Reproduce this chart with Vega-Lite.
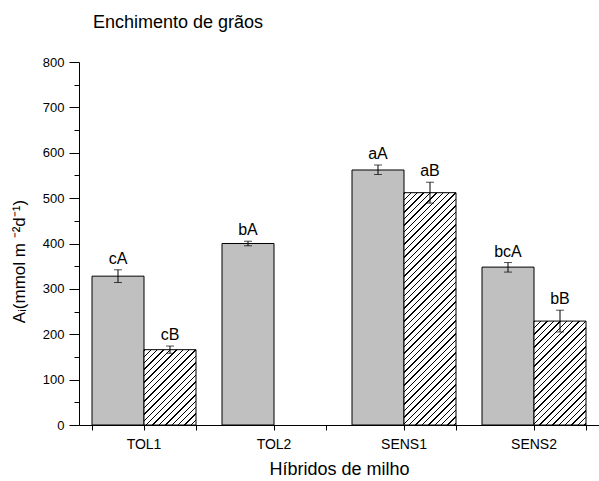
{
  "$schema": "https://vega.github.io/schema/vega-lite/v6.json",
  "width": 520,
  "height": 363,
  "autosize": {"type": "none"},
  "padding": {"left": 79, "top": 62, "right": 0, "bottom": 56},
  "background": "#ffffff",
  "title": {"text": "Enchimento de grãos", "anchor": "start", "frame": "group", "dx": 14, "offset": 10, "baseline": "alphabetic", "font": "Liberation Sans", "fontSize": 18, "fontWeight": "normal", "color": "#000"},
  "config": {
    "view": {"stroke": null},
    "axis": {"grid": false, "domainColor": "#000", "tickColor": "#000", "labelColor": "#000", "titleColor": "#000", "labelFont": "Liberation Sans", "titleFont": "Liberation Sans", "titleFontWeight": "normal"}
  },
  "data": {"values": [
    {"hibrido": "TOL1", "serie": "A", "v": 328, "lo": 314, "hi": 342, "letra": "cA"},
    {"hibrido": "TOL1", "serie": "B", "v": 166, "lo": 158, "hi": 174, "letra": "cB"},
    {"hibrido": "TOL2", "serie": "A", "v": 400, "lo": 395, "hi": 405, "letra": "bA"},
    {"hibrido": "SENS1", "serie": "A", "v": 562, "lo": 552, "hi": 573, "letra": "aA"},
    {"hibrido": "SENS1", "serie": "B", "v": 512, "lo": 489, "hi": 535, "letra": "aB"},
    {"hibrido": "SENS2", "serie": "A", "v": 348, "lo": 337, "hi": 358, "letra": "bcA"},
    {"hibrido": "SENS2", "serie": "B", "v": 229, "lo": 205, "hi": 253, "letra": "bB"}
  ]},
  "resolve": {"axis": {"x": "independent", "y": "independent"}},
  "layer": [
    {
      "mark": {"type": "bar", "stroke": "#000", "strokeWidth": 1},
      "encoding": {
        "x": {"field": "hibrido", "type": "nominal", "sort": ["TOL1", "TOL2", "SENS1", "SENS2"], "scale": {"paddingInner": 0.2, "paddingOuter": 0.1},
              "axis": {"orient": "bottom", "title": "Híbridos de milho", "labelAngle": 0, "labelFontSize": 14, "tickSize": 5, "labelPadding": 7, "titleFontSize": 18, "titleBaseline": "alphabetic", "titleY": 49}},
        "xOffset": {"field": "serie", "type": "nominal", "scale": {"paddingInner": 0, "paddingOuter": 0}},
        "y": {"field": "v", "type": "quantitative", "scale": {"domain": [0, 800], "nice": false},
              "axis": {"orient": "left", "values": [0, 100, 200, 300, 400, 500, 600, 700, 800], "tickSize": 10, "labelPadding": 5, "labelFontSize": 13, "title": "Aᵢ(mmol m ⁻²d⁻¹)", "titleFontSize": 17, "titleX": -51, "titleY": 199, "titleAngle": -90, "titleAlign": "center", "titleBaseline": "bottom"}},
        "fill": {
          "condition": [
            {"test": "datum.hibrido === 'TOL1' && datum.serie === 'B'", "value": {"gradient": "linear", "x1": 0, "y1": 0, "x2": 1.98637, "y2": 2.87716, "stops": [
              {"offset":0,"color":"#000"},{"offset":0.0045,"color":"#000"},{"offset":0.0045,"color":"#fff"},{"offset":0.02,"color":"#fff"},
              {"offset":0.02,"color":"#000"},{"offset":0.0245,"color":"#000"},{"offset":0.0245,"color":"#fff"},{"offset":0.04,"color":"#fff"},
              {"offset":0.04,"color":"#000"},{"offset":0.0445,"color":"#000"},{"offset":0.0445,"color":"#fff"},{"offset":0.06,"color":"#fff"},
              {"offset":0.06,"color":"#000"},{"offset":0.0645,"color":"#000"},{"offset":0.0645,"color":"#fff"},{"offset":0.08,"color":"#fff"},
              {"offset":0.08,"color":"#000"},{"offset":0.0845,"color":"#000"},{"offset":0.0845,"color":"#fff"},{"offset":0.1,"color":"#fff"},
              {"offset":0.1,"color":"#000"},{"offset":0.1045,"color":"#000"},{"offset":0.1045,"color":"#fff"},{"offset":0.12,"color":"#fff"},
              {"offset":0.12,"color":"#000"},{"offset":0.1245,"color":"#000"},{"offset":0.1245,"color":"#fff"},{"offset":0.14,"color":"#fff"},
              {"offset":0.14,"color":"#000"},{"offset":0.1445,"color":"#000"},{"offset":0.1445,"color":"#fff"},{"offset":0.16,"color":"#fff"},
              {"offset":0.16,"color":"#000"},{"offset":0.1645,"color":"#000"},{"offset":0.1645,"color":"#fff"},{"offset":0.18,"color":"#fff"},
              {"offset":0.18,"color":"#000"},{"offset":0.1845,"color":"#000"},{"offset":0.1845,"color":"#fff"},{"offset":0.2,"color":"#fff"},
              {"offset":0.2,"color":"#000"},{"offset":0.2045,"color":"#000"},{"offset":0.2045,"color":"#fff"},{"offset":0.22,"color":"#fff"},
              {"offset":0.22,"color":"#000"},{"offset":0.2245,"color":"#000"},{"offset":0.2245,"color":"#fff"},{"offset":0.24,"color":"#fff"},
              {"offset":0.24,"color":"#000"},{"offset":0.2445,"color":"#000"},{"offset":0.2445,"color":"#fff"},{"offset":0.26,"color":"#fff"},
              {"offset":0.26,"color":"#000"},{"offset":0.2645,"color":"#000"},{"offset":0.2645,"color":"#fff"},{"offset":0.28,"color":"#fff"},
              {"offset":0.28,"color":"#000"},{"offset":0.2845,"color":"#000"},{"offset":0.2845,"color":"#fff"},{"offset":0.3,"color":"#fff"},
              {"offset":0.3,"color":"#000"},{"offset":0.3045,"color":"#000"},{"offset":0.3045,"color":"#fff"},{"offset":0.32,"color":"#fff"},
              {"offset":0.32,"color":"#000"},{"offset":0.3245,"color":"#000"},{"offset":0.3245,"color":"#fff"},{"offset":0.34,"color":"#fff"},
              {"offset":0.34,"color":"#000"},{"offset":0.3445,"color":"#000"},{"offset":0.3445,"color":"#fff"},{"offset":0.36,"color":"#fff"},
              {"offset":0.36,"color":"#000"},{"offset":0.3645,"color":"#000"},{"offset":0.3645,"color":"#fff"},{"offset":0.38,"color":"#fff"},
              {"offset":0.38,"color":"#000"},{"offset":0.3845,"color":"#000"},{"offset":0.3845,"color":"#fff"},{"offset":0.4,"color":"#fff"}
            ]}},
            {"test": "datum.hibrido === 'SENS2' && datum.serie === 'B'", "value": {"gradient": "linear", "x1": 0, "y1": 0, "x2": 1.23248, "y2": 2.46282, "stops": [
              {"offset":0,"color":"#000"},{"offset":0.0045,"color":"#000"},{"offset":0.0045,"color":"#fff"},{"offset":0.02,"color":"#fff"},
              {"offset":0.02,"color":"#000"},{"offset":0.0245,"color":"#000"},{"offset":0.0245,"color":"#fff"},{"offset":0.04,"color":"#fff"},
              {"offset":0.04,"color":"#000"},{"offset":0.0445,"color":"#000"},{"offset":0.0445,"color":"#fff"},{"offset":0.06,"color":"#fff"},
              {"offset":0.06,"color":"#000"},{"offset":0.0645,"color":"#000"},{"offset":0.0645,"color":"#fff"},{"offset":0.08,"color":"#fff"},
              {"offset":0.08,"color":"#000"},{"offset":0.0845,"color":"#000"},{"offset":0.0845,"color":"#fff"},{"offset":0.1,"color":"#fff"},
              {"offset":0.1,"color":"#000"},{"offset":0.1045,"color":"#000"},{"offset":0.1045,"color":"#fff"},{"offset":0.12,"color":"#fff"},
              {"offset":0.12,"color":"#000"},{"offset":0.1245,"color":"#000"},{"offset":0.1245,"color":"#fff"},{"offset":0.14,"color":"#fff"},
              {"offset":0.14,"color":"#000"},{"offset":0.1445,"color":"#000"},{"offset":0.1445,"color":"#fff"},{"offset":0.16,"color":"#fff"},
              {"offset":0.16,"color":"#000"},{"offset":0.1645,"color":"#000"},{"offset":0.1645,"color":"#fff"},{"offset":0.18,"color":"#fff"},
              {"offset":0.18,"color":"#000"},{"offset":0.1845,"color":"#000"},{"offset":0.1845,"color":"#fff"},{"offset":0.2,"color":"#fff"},
              {"offset":0.2,"color":"#000"},{"offset":0.2045,"color":"#000"},{"offset":0.2045,"color":"#fff"},{"offset":0.22,"color":"#fff"},
              {"offset":0.22,"color":"#000"},{"offset":0.2245,"color":"#000"},{"offset":0.2245,"color":"#fff"},{"offset":0.24,"color":"#fff"},
              {"offset":0.24,"color":"#000"},{"offset":0.2445,"color":"#000"},{"offset":0.2445,"color":"#fff"},{"offset":0.26,"color":"#fff"},
              {"offset":0.26,"color":"#000"},{"offset":0.2645,"color":"#000"},{"offset":0.2645,"color":"#fff"},{"offset":0.28,"color":"#fff"},
              {"offset":0.28,"color":"#000"},{"offset":0.2845,"color":"#000"},{"offset":0.2845,"color":"#fff"},{"offset":0.3,"color":"#fff"},
              {"offset":0.3,"color":"#000"},{"offset":0.3045,"color":"#000"},{"offset":0.3045,"color":"#fff"},{"offset":0.32,"color":"#fff"},
              {"offset":0.32,"color":"#000"},{"offset":0.3245,"color":"#000"},{"offset":0.3245,"color":"#fff"},{"offset":0.34,"color":"#fff"},
              {"offset":0.34,"color":"#000"},{"offset":0.3445,"color":"#000"},{"offset":0.3445,"color":"#fff"},{"offset":0.36,"color":"#fff"},
              {"offset":0.36,"color":"#000"},{"offset":0.3645,"color":"#000"},{"offset":0.3645,"color":"#fff"},{"offset":0.38,"color":"#fff"},
              {"offset":0.38,"color":"#000"},{"offset":0.3845,"color":"#000"},{"offset":0.3845,"color":"#fff"},{"offset":0.4,"color":"#fff"},
              {"offset":0.4,"color":"#000"},{"offset":0.4045,"color":"#000"},{"offset":0.4045,"color":"#fff"},{"offset":0.42,"color":"#fff"},
              {"offset":0.42,"color":"#000"},{"offset":0.4245,"color":"#000"},{"offset":0.4245,"color":"#fff"},{"offset":0.44,"color":"#fff"},
              {"offset":0.44,"color":"#000"},{"offset":0.4445,"color":"#000"},{"offset":0.4445,"color":"#fff"},{"offset":0.46,"color":"#fff"},
              {"offset":0.46,"color":"#000"},{"offset":0.4645,"color":"#000"},{"offset":0.4645,"color":"#fff"},{"offset":0.48,"color":"#fff"},
              {"offset":0.48,"color":"#000"},{"offset":0.4845,"color":"#000"},{"offset":0.4845,"color":"#fff"},{"offset":0.5,"color":"#fff"}
            ]}},
            {"test": "datum.hibrido === 'SENS1' && datum.serie === 'B'", "value": {"gradient": "linear", "x1": 0, "y1": 0, "x2": 0.2936, "y2": 1.31169, "stops": [
              {"offset":0,"color":"#000"},{"offset":0.0045,"color":"#000"},{"offset":0.0045,"color":"#fff"},{"offset":0.02,"color":"#fff"},
              {"offset":0.02,"color":"#000"},{"offset":0.0245,"color":"#000"},{"offset":0.0245,"color":"#fff"},{"offset":0.04,"color":"#fff"},
              {"offset":0.04,"color":"#000"},{"offset":0.0445,"color":"#000"},{"offset":0.0445,"color":"#fff"},{"offset":0.06,"color":"#fff"},
              {"offset":0.06,"color":"#000"},{"offset":0.0645,"color":"#000"},{"offset":0.0645,"color":"#fff"},{"offset":0.08,"color":"#fff"},
              {"offset":0.08,"color":"#000"},{"offset":0.0845,"color":"#000"},{"offset":0.0845,"color":"#fff"},{"offset":0.1,"color":"#fff"},
              {"offset":0.1,"color":"#000"},{"offset":0.1045,"color":"#000"},{"offset":0.1045,"color":"#fff"},{"offset":0.12,"color":"#fff"},
              {"offset":0.12,"color":"#000"},{"offset":0.1245,"color":"#000"},{"offset":0.1245,"color":"#fff"},{"offset":0.14,"color":"#fff"},
              {"offset":0.14,"color":"#000"},{"offset":0.1445,"color":"#000"},{"offset":0.1445,"color":"#fff"},{"offset":0.16,"color":"#fff"},
              {"offset":0.16,"color":"#000"},{"offset":0.1645,"color":"#000"},{"offset":0.1645,"color":"#fff"},{"offset":0.18,"color":"#fff"},
              {"offset":0.18,"color":"#000"},{"offset":0.1845,"color":"#000"},{"offset":0.1845,"color":"#fff"},{"offset":0.2,"color":"#fff"},
              {"offset":0.2,"color":"#000"},{"offset":0.2045,"color":"#000"},{"offset":0.2045,"color":"#fff"},{"offset":0.22,"color":"#fff"},
              {"offset":0.22,"color":"#000"},{"offset":0.2245,"color":"#000"},{"offset":0.2245,"color":"#fff"},{"offset":0.24,"color":"#fff"},
              {"offset":0.24,"color":"#000"},{"offset":0.2445,"color":"#000"},{"offset":0.2445,"color":"#fff"},{"offset":0.26,"color":"#fff"},
              {"offset":0.26,"color":"#000"},{"offset":0.2645,"color":"#000"},{"offset":0.2645,"color":"#fff"},{"offset":0.28,"color":"#fff"},
              {"offset":0.28,"color":"#000"},{"offset":0.2845,"color":"#000"},{"offset":0.2845,"color":"#fff"},{"offset":0.3,"color":"#fff"},
              {"offset":0.3,"color":"#000"},{"offset":0.3045,"color":"#000"},{"offset":0.3045,"color":"#fff"},{"offset":0.32,"color":"#fff"},
              {"offset":0.32,"color":"#000"},{"offset":0.3245,"color":"#000"},{"offset":0.3245,"color":"#fff"},{"offset":0.34,"color":"#fff"},
              {"offset":0.34,"color":"#000"},{"offset":0.3445,"color":"#000"},{"offset":0.3445,"color":"#fff"},{"offset":0.36,"color":"#fff"},
              {"offset":0.36,"color":"#000"},{"offset":0.3645,"color":"#000"},{"offset":0.3645,"color":"#fff"},{"offset":0.38,"color":"#fff"},
              {"offset":0.38,"color":"#000"},{"offset":0.3845,"color":"#000"},{"offset":0.3845,"color":"#fff"},{"offset":0.4,"color":"#fff"},
              {"offset":0.4,"color":"#000"},{"offset":0.4045,"color":"#000"},{"offset":0.4045,"color":"#fff"},{"offset":0.42,"color":"#fff"},
              {"offset":0.42,"color":"#000"},{"offset":0.4245,"color":"#000"},{"offset":0.4245,"color":"#fff"},{"offset":0.44,"color":"#fff"},
              {"offset":0.44,"color":"#000"},{"offset":0.4445,"color":"#000"},{"offset":0.4445,"color":"#fff"},{"offset":0.46,"color":"#fff"},
              {"offset":0.46,"color":"#000"},{"offset":0.4645,"color":"#000"},{"offset":0.4645,"color":"#fff"},{"offset":0.48,"color":"#fff"},
              {"offset":0.48,"color":"#000"},{"offset":0.4845,"color":"#000"},{"offset":0.4845,"color":"#fff"},{"offset":0.5,"color":"#fff"},
              {"offset":0.5,"color":"#000"},{"offset":0.5045,"color":"#000"},{"offset":0.5045,"color":"#fff"},{"offset":0.52,"color":"#fff"},
              {"offset":0.52,"color":"#000"},{"offset":0.5245,"color":"#000"},{"offset":0.5245,"color":"#fff"},{"offset":0.54,"color":"#fff"},
              {"offset":0.54,"color":"#000"},{"offset":0.5445,"color":"#000"},{"offset":0.5445,"color":"#fff"},{"offset":0.56,"color":"#fff"},
              {"offset":0.56,"color":"#000"},{"offset":0.5645,"color":"#000"},{"offset":0.5645,"color":"#fff"},{"offset":0.58,"color":"#fff"},
              {"offset":0.58,"color":"#000"},{"offset":0.5845,"color":"#000"},{"offset":0.5845,"color":"#fff"},{"offset":0.6,"color":"#fff"},
              {"offset":0.6,"color":"#000"},{"offset":0.6045,"color":"#000"},{"offset":0.6045,"color":"#fff"},{"offset":0.62,"color":"#fff"},
              {"offset":0.62,"color":"#000"},{"offset":0.6245,"color":"#000"},{"offset":0.6245,"color":"#fff"},{"offset":0.64,"color":"#fff"},
              {"offset":0.64,"color":"#000"},{"offset":0.6445,"color":"#000"},{"offset":0.6445,"color":"#fff"},{"offset":0.66,"color":"#fff"},
              {"offset":0.66,"color":"#000"},{"offset":0.6645,"color":"#000"},{"offset":0.6645,"color":"#fff"},{"offset":0.68,"color":"#fff"},
              {"offset":0.68,"color":"#000"},{"offset":0.6845,"color":"#000"},{"offset":0.6845,"color":"#fff"},{"offset":0.7,"color":"#fff"},
              {"offset":0.7,"color":"#000"},{"offset":0.7045,"color":"#000"},{"offset":0.7045,"color":"#fff"},{"offset":0.72,"color":"#fff"},
              {"offset":0.72,"color":"#000"},{"offset":0.7245,"color":"#000"},{"offset":0.7245,"color":"#fff"},{"offset":0.74,"color":"#fff"},
              {"offset":0.74,"color":"#000"},{"offset":0.7445,"color":"#000"},{"offset":0.7445,"color":"#fff"},{"offset":0.76,"color":"#fff"},
              {"offset":0.76,"color":"#000"},{"offset":0.7645,"color":"#000"},{"offset":0.7645,"color":"#fff"},{"offset":0.78,"color":"#fff"},
              {"offset":0.78,"color":"#000"},{"offset":0.7845,"color":"#000"},{"offset":0.7845,"color":"#fff"},{"offset":0.8,"color":"#fff"},
              {"offset":0.8,"color":"#000"},{"offset":0.8045,"color":"#000"},{"offset":0.8045,"color":"#fff"},{"offset":0.82,"color":"#fff"},
              {"offset":0.82,"color":"#000"},{"offset":0.8245,"color":"#000"},{"offset":0.8245,"color":"#fff"},{"offset":0.84,"color":"#fff"},
              {"offset":0.84,"color":"#000"},{"offset":0.8445,"color":"#000"},{"offset":0.8445,"color":"#fff"},{"offset":0.86,"color":"#fff"},
              {"offset":0.86,"color":"#000"},{"offset":0.8645,"color":"#000"},{"offset":0.8645,"color":"#fff"},{"offset":0.88,"color":"#fff"},
              {"offset":0.88,"color":"#000"},{"offset":0.8845,"color":"#000"},{"offset":0.8845,"color":"#fff"},{"offset":0.9,"color":"#fff"}
            ]}}
          ],
          "value": "#c0c0c0"
        }
      }
    },
    {
      "mark": {"type": "rule", "color": "#000", "strokeWidth": 1},
      "encoding": {
        "x": {"field": "hibrido", "type": "nominal", "sort": ["TOL1", "TOL2", "SENS1", "SENS2"],
              "axis": {"orient": "bottom", "tickBand": "extent", "labels": false, "domain": false, "tickSize": 5, "title": null}},
        "xOffset": {"field": "serie", "type": "nominal"},
        "y": {"field": "lo", "type": "quantitative",
              "axis": {"orient": "left", "values": [50, 150, 250, 350, 450, 550, 650, 750], "labels": false, "domain": false, "tickSize": 5, "title": null}},
        "y2": {"field": "hi"}
      }
    },
    {
      "mark": {"type": "tick", "color": "#000", "thickness": 1, "size": 8, "orient": "horizontal"},
      "encoding": {
        "x": {"field": "hibrido", "type": "nominal", "sort": ["TOL1", "TOL2", "SENS1", "SENS2"], "axis": null},
        "xOffset": {"field": "serie", "type": "nominal"},
        "y": {"field": "lo", "type": "quantitative", "axis": null}
      }
    },
    {
      "mark": {"type": "tick", "color": "#000", "thickness": 1, "size": 8, "orient": "horizontal"},
      "encoding": {
        "x": {"field": "hibrido", "type": "nominal", "sort": ["TOL1", "TOL2", "SENS1", "SENS2"], "axis": null},
        "xOffset": {"field": "serie", "type": "nominal"},
        "y": {"field": "hi", "type": "quantitative", "axis": null}
      }
    },
    {
      "mark": {"type": "text", "font": "Liberation Sans", "fontSize": 16, "color": "#000", "baseline": "alphabetic", "dy": -6},
      "encoding": {
        "x": {"field": "hibrido", "type": "nominal", "sort": ["TOL1", "TOL2", "SENS1", "SENS2"], "axis": null},
        "xOffset": {"field": "serie", "type": "nominal"},
        "y": {"field": "hi", "type": "quantitative", "axis": null},
        "text": {"field": "letra"}
      }
    }
  ]
}
